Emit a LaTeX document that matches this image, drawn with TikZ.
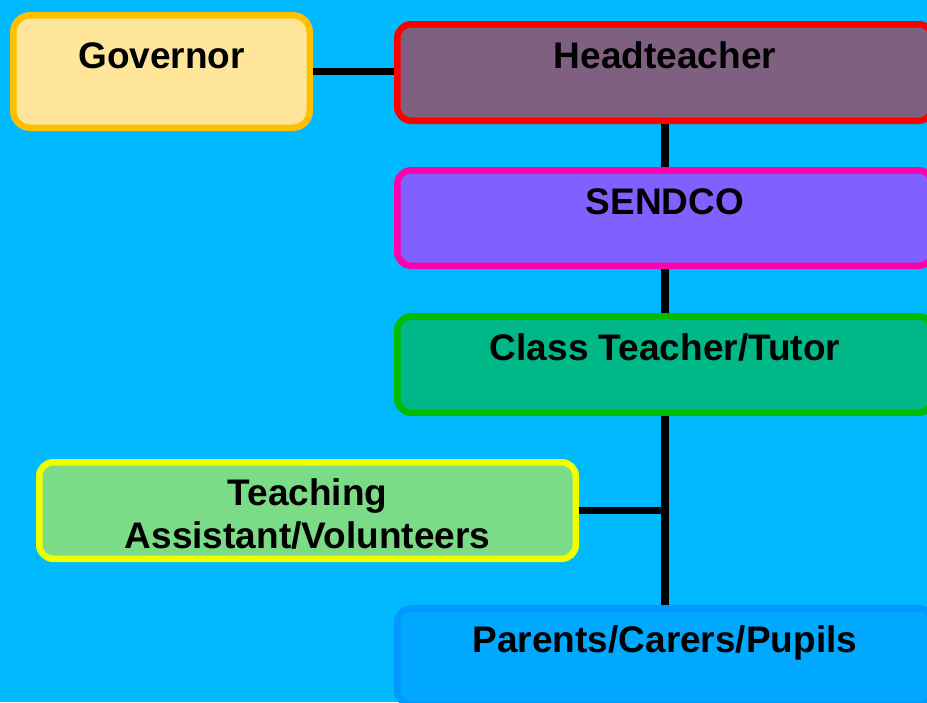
\documentclass[tikz,border=0pt]{standalone}
\usepackage{fontspec}
\setmainfont{Liberation Sans}
\definecolor{bgblue}{RGB}{0,185,255}
\definecolor{govfill}{RGB}{255,229,153}
\definecolor{govline}{RGB}{255,192,0}
\definecolor{headfill}{RGB}{128,96,128}
\definecolor{headline}{RGB}{255,0,0}
\definecolor{sendfill}{RGB}{128,96,255}
\definecolor{sendline}{RGB}{255,0,170}
\definecolor{classfill}{RGB}{0,184,135}
\definecolor{classline}{RGB}{0,187,0}
\definecolor{tafill}{RGB}{123,219,135}
\definecolor{taline}{RGB}{240,255,0}
\definecolor{parfill}{RGB}{0,168,255}
\definecolor{parline}{RGB}{0,153,255}
\tikzset{
  box/.style={draw, rectangle, rounded corners=14pt, line width=6.5pt, inner sep=0pt},
  lbl/.style={anchor=base, align=center, inner sep=0pt, font=\bfseries\fontsize{37}{43}\selectfont},
  link/.style={line width=7.5pt, black}
}
\begin{document}
\begin{tikzpicture}[x=1pt,y=-1pt]
\useasboundingbox[fill=bgblue] (0,0) rectangle (927,702);
\node[box, fill=govfill, draw=govline, rounded corners=17pt, minimum width=296.5pt, minimum height=112.5pt] (gov) at (161.5,71.5) {};
\node[box, fill=headfill, draw=headline, minimum width=535.5pt, minimum height=96.5pt] (head) at (665,72.5) {};
\node[box, fill=sendfill, draw=sendline, minimum width=535.5pt, minimum height=95.5pt] (send) at (665,218) {};
\node[box, fill=classfill, draw=classline, minimum width=535.5pt, minimum height=96.5pt] (class) at (665,364.5) {};
\node[box, fill=tafill, draw=taline, minimum width=536.5pt, minimum height=96.5pt] (ta) at (307.5,510.5) {};
\node[box, fill=parfill, draw=parline, minimum width=535.5pt, minimum height=96.5pt] (par) at (665,656.5) {};
\node[lbl] (govt) at (161.5,68) {Governor};
\node[lbl] (headt) at (665,68) {Headteacher};
\node[lbl] (sendt) at (665,214) {SENDCO};
\node[lbl] (classt) at (665,360) {Class Teacher/Tutor};
\node[lbl] (tat) at (307.5,548) {Teaching\\Assistant/Volunteers};
\node[lbl] (part) at (665,652) {Parents/Carers/Pupils};
\draw[link] (gov.east) -- (gov.east -| head.west);
\draw[link] (head.south) -- (send.north);
\draw[link] (send.south) -- (class.north);
\draw[link] (class.south) -- (par.north);
\draw[link] (ta.east) -- (ta.east -| class.south);
\end{tikzpicture}
\end{document}
